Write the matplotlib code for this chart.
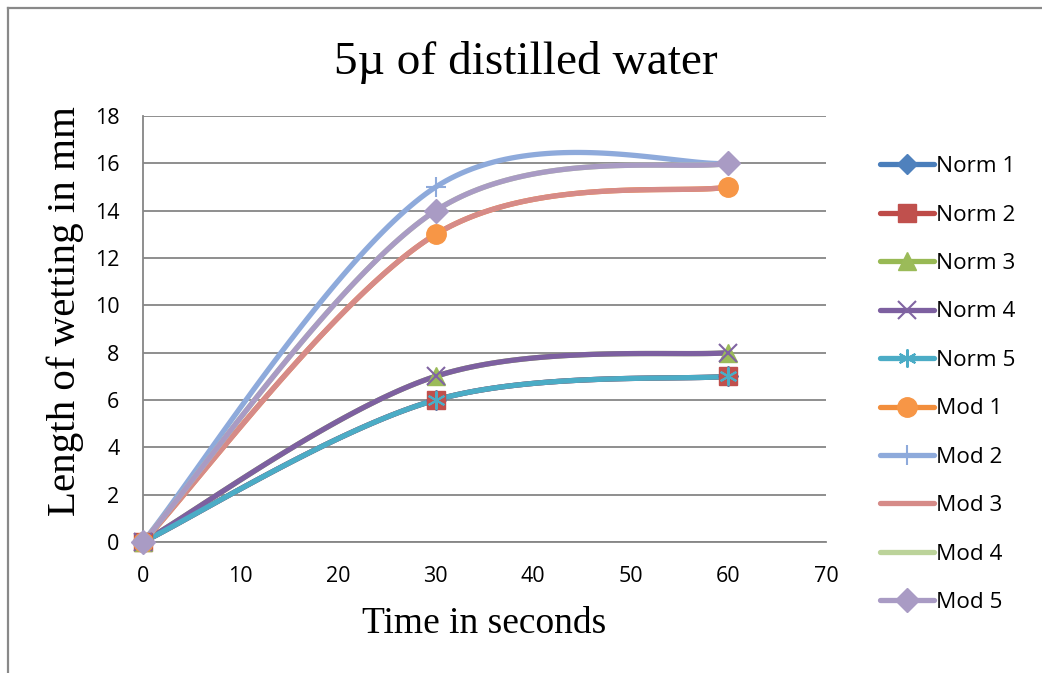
import numpy as np
import matplotlib.pyplot as plt
from matplotlib.lines import Line2D

time_s = [0, 30, 60]
names = ['Norm 1', 'Norm 2', 'Norm 3', 'Norm 4', 'Norm 5',
         'Mod 1', 'Mod 2', 'Mod 3', 'Mod 4', 'Mod 5']
norm1 = [0, 6, 7]
norm2 = [0, 6, 7]
norm3 = [0, 7, 8]
norm4 = [0, 7, 8]
norm5 = [0, 6, 7]
mod1 = [0, 13, 15]
mod2 = [0, 15, 16]
mod3 = [0, 13, 15]
mod4 = [0, 14, 16]
mod5 = [0, 14, 16]
values = [norm1, norm2, norm3, norm4, norm5, mod1, mod2, mod3, mod4, mod5]

line_colors = ['#4A7EBB', '#BE4B48', '#98B954', '#7D60A0', '#4BACC6',
               '#F28E3C', '#8EAADB', '#D68B88', '#BCD39A', '#A99BC4']
marker_colors = ['#4F81BD', '#C0504D', '#9BBB59', '#8064A2', '#4BACC6',
                 '#F79646', '#8EAADB', '#D68B88', '#BCD39A', '#A99BC4']
markers = ['D', 's', '^', 'x', (6, 2, 0), 'o', '+', None, None, 'D']
msizes = [10, 13, 13, 13, 13, 14, 15, 0, 0, 12]
open_marks = ['x', (6, 2, 0), '+']


def smooth(x, y, n=60):
    # excel style bezier smoothing
    x = np.asarray(x, float)
    y = np.asarray(y, float)
    pts = np.column_stack((x, y))
    out = [pts[0]]
    for i in range(len(pts) - 1):
        p0 = pts[i - 1] if i > 0 else pts[i]
        p1 = pts[i]
        p2 = pts[i + 1]
        p3 = pts[i + 2] if i + 2 < len(pts) else pts[i + 1]
        c1 = p1 + (p2 - p0) / 6
        c2 = p2 - (p3 - p1) / 6
        t = np.linspace(0, 1, n)[1:, None]
        seg = ((1 - t) ** 3 * p1 + 3 * (1 - t) ** 2 * t * c1
               + 3 * (1 - t) * t ** 2 * c2 + t ** 3 * p2)
        out.extend(seg)
    out = np.array(out)
    return out[:, 0], out[:, 1]


def marker_kw(i):
    if markers[i] is None:
        return {}
    if markers[i] in open_marks:
        return dict(marker=markers[i], ms=msizes[i], mec=marker_colors[i], mew=1.5)
    return dict(marker=markers[i], ms=msizes[i], mfc=marker_colors[i], mec=marker_colors[i])


fig = plt.figure(figsize=(10.42, 6.73), dpi=100)
ax = fig.add_axes([0.1372, 0.1947, 0.6555, 0.6329])

for i in range(len(names)):
    sx, sy = smooth(time_s, values[i])
    ax.plot(sx, sy, color=line_colors[i], lw=3.8, solid_capstyle='round', zorder=3)
    if markers[i] is not None:
        ax.plot(time_s, values[i], ls='none', zorder=4, clip_on=False, **marker_kw(i))

handles = [Line2D([], [], color=line_colors[i], lw=3.8, solid_capstyle='round', **marker_kw(i))
           for i in range(len(names))]

fig.legend(handles, names, loc='upper left', bbox_to_anchor=(0.8445, 0.768),
           frameon=False, prop={'family': 'Open Sans', 'size': 16.2}, borderpad=0,
           handlelength=2.4, handletextpad=0.1, labelspacing=1.22, borderaxespad=0)

ax.set_xlim(0, 70)
ax.set_ylim(0, 18)
ax.set_xticks(range(0, 71, 10))
ax.set_yticks(range(0, 19, 2))
ax.tick_params(length=0, labelsize=15.5, pad=17)
for lab in ax.get_xticklabels() + ax.get_yticklabels():
    lab.set_family('Open Sans')
ax.grid(axis='y', color='#868686', lw=1.3)
ax.set_axisbelow(True)
for s in ['top', 'right']:
    ax.spines[s].set_visible(False)
for s in ['left', 'bottom']:
    ax.spines[s].set_color('#868686')
    ax.spines[s].set_linewidth(1.3)

ax.set_title('5\u00b5 of distilled water', family='Liberation Serif', fontsize=34, pad=30, x=0.56)
ax.set_xlabel('Time in seconds', family='Liberation Serif', fontsize=27, labelpad=14)
ax.set_ylabel('Length of wetting in mm', family='Liberation Serif', fontsize=29.5, labelpad=8)
ax.yaxis.label.set_y(0.542)

# chart border (left and top edges only visible)
fig.add_artist(Line2D([0.0075, 0.0075], [0, 0.988], transform=fig.transFigure,
                      color='#898989', lw=1.6))
fig.add_artist(Line2D([0.0075, 1.0], [0.988, 0.988], transform=fig.transFigure,
                      color='#898989', lw=1.6))

fig.savefig('out.png', dpi=100)
